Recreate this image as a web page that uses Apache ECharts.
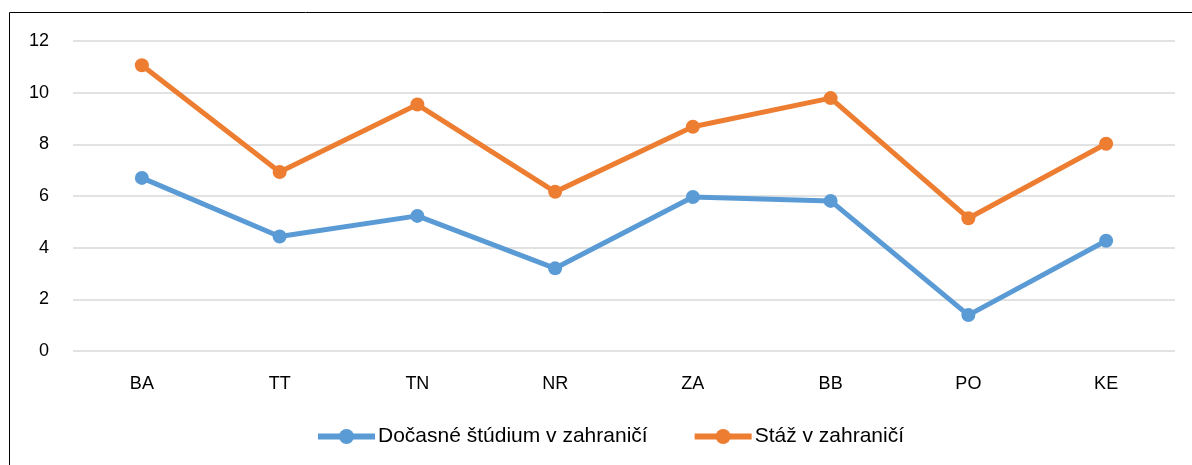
<!DOCTYPE html>
<html>
<head>
<meta charset="utf-8">
<script src="https://cdn.jsdelivr.net/npm/echarts@6/dist/echarts.min.js"></script>
<style>
  html, body { margin: 0; padding: 0; background: #fff; }
  #chart { width: 1192px; height: 465px; }
</style>
</head>
<body>
<div id="chart"></div>
<script>
const categories = ['BA', 'TT', 'TN', 'NR', 'ZA', 'BB', 'PO', 'KE']
const studyName = 'Dočasné štúdium v zahraničí'
const internName = 'Stáž v zahraničí'
const studyValues = [6.7, 4.43, 5.23, 3.2, 5.96, 5.81, 1.39, 4.27]
const internValues = [11.06, 6.93, 9.54, 6.16, 8.68, 9.79, 5.14, 8.02]

const chart = echarts.init(document.getElementById('chart'))
const font = 'Liberation Sans'

const option = {
  backgroundColor: '#fff',
  animation: false,
  textStyle: { fontFamily: font },
  graphic: [
    {
      // chart frame, only left and top edges visible in the crop
      type: 'rect',
      shape: { x: 9.5, y: 12.5, width: 1400, height: 800 },
      style: { fill: 'none', stroke: '#000', lineWidth: 1 },
      silent: true
    }
  ],
  grid: { left: 73, right: 17, top: 41, bottom: 114 },
  legend: {
    top: 421,
    left: 310,
    itemWidth: 57,
    itemHeight: 19,
    itemGap: 44,
    lineStyle: { width: 6 },
    textStyle: { fontFamily: font, fontSize: 21, color: '#000', padding: [0, 0, 0, -2] },
    data: [studyName, internName]
  },
  xAxis: {
    type: 'category',
    data: categories,
    boundaryGap: true,
    axisLine: { show: false },
    axisTick: { show: false },
    axisLabel: { color: '#000', fontSize: 18, margin: 24, fontFamily: font }
  },
  yAxis: {
    type: 'value',
    min: 0,
    max: 12,
    interval: 2,
    axisLine: { show: false },
    axisTick: { show: false },
    axisLabel: { color: '#000', fontSize: 18, margin: 24, fontFamily: font },
    splitLine: { lineStyle: { color: '#d9d9d9', width: 1.5 } }
  },
  series: [
    {
      name: studyName,
      type: 'line',
      data: studyValues,
      symbol: 'circle',
      symbolSize: 14,
      lineStyle: { color: '#5B9BD5', width: 5 },
      itemStyle: { color: '#5B9BD5' }
    },
    {
      name: internName,
      type: 'line',
      data: internValues,
      symbol: 'circle',
      symbolSize: 14,
      lineStyle: { color: '#ED7D31', width: 5 },
      itemStyle: { color: '#ED7D31' }
    }
  ]
}

chart.setOption(option)

window.addEventListener('resize', () => {
  chart.resize()
})
</script>
</body>
</html>
